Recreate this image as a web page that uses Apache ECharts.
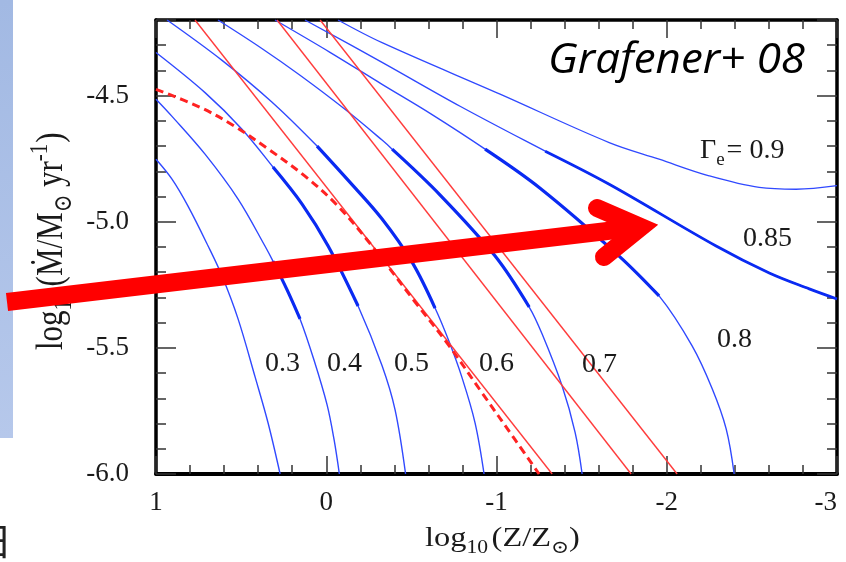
<!DOCTYPE html>
<html>
<head>
<meta charset="utf-8">
<script src="https://cdn.jsdelivr.net/npm/echarts@6/dist/echarts.min.js"></script>
<style>
  html, body { margin: 0; padding: 0; background: #fff; }
  #chart { width: 846px; height: 562px; }
</style>
</head>
<body>
<div id="chart"></div>
<script>
// Mass-loss rate vs metallicity for fixed Eddington factors (Γe tracks)
const xTicks = [1, 0, -1, -2, -3];
const yTicks = [-6.0, -5.5, -5.0, -4.5];

// [log10(Z/Zsun), log10(Mdot)] along each Γe track
const gamma03 = [[1.000,-4.752],[0.906,-4.831],[0.812,-4.938],[0.694,-5.096],[0.612,-5.215],[0.518,-5.385],[0.418,-5.615],[0.342,-5.797],[0.271,-6.000]];
const gamma04 = [[1.000,-4.514],[0.906,-4.582],[0.712,-4.732],[0.518,-4.910],[0.360,-5.096],[0.313,-5.156],[0.230,-5.270],[0.154,-5.385],[0.072,-5.548],[-0.005,-5.726],[-0.046,-5.864],[-0.077,-6.000]];
const gamma05 = [[1.000,-4.329],[0.712,-4.488],[0.495,-4.633],[0.313,-4.783],[0.142,-4.930],[-0.011,-5.096],[-0.187,-5.334],[-0.328,-5.571],[-0.404,-5.745],[-0.466,-6.000]];
const gamma06 = [[0.935,-4.200],[0.612,-4.360],[0.318,-4.526],[0.054,-4.700],[-0.128,-4.835],[-0.328,-4.989],[-0.504,-5.160],[-0.639,-5.342],[-0.722,-5.476],[-0.798,-5.619],[-0.874,-5.797],[-0.927,-6.000]];
const gamma07 = [[0.636,-4.200],[0.389,-4.308],[0.154,-4.419],[-0.110,-4.554],[-0.328,-4.676],[-0.387,-4.712],[-0.669,-4.894],[-0.992,-5.136],[-1.192,-5.338],[-1.268,-5.445],[-1.385,-5.650],[-1.462,-5.836],[-1.503,-6.000]];
const gamma08 = [[0.301,-4.200],[-0.022,-4.328],[-0.328,-4.455],[-0.610,-4.570],[-0.933,-4.712],[-1.256,-4.867],[-1.720,-5.136],[-1.955,-5.294],[-2.149,-5.492],[-2.267,-5.662],[-2.349,-5.821],[-2.396,-6.000]];
const gamma085 = [[0.125,-4.200],[-0.328,-4.368],[-0.786,-4.542],[-1.286,-4.720],[-1.662,-4.851],[-2.290,-5.096],[-2.602,-5.203],[-2.837,-5.266],[-3.000,-5.306]];
const gamma09 = [[-0.069,-4.200],[-0.328,-4.290],[-1.021,-4.494],[-1.662,-4.686],[-1.955,-4.752],[-2.249,-4.818],[-2.543,-4.864],[-2.760,-4.871],[-3.000,-4.857]];

// bold stretches of the tracks
const gamma04Bold = [[0.313,-5.156],[0.230,-5.270],[0.154,-5.385]];
const gamma05Bold = [[0.313,-4.783],[0.142,-4.930],[-0.011,-5.096],[-0.187,-5.334]];
const gamma06Bold = [[0.054,-4.700],[-0.128,-4.835],[-0.328,-4.989],[-0.504,-5.160],[-0.639,-5.342]];
const gamma07Bold = [[-0.387,-4.712],[-0.669,-4.894],[-0.992,-5.136],[-1.192,-5.338]];
const gamma08Bold = [[-0.933,-4.712],[-1.256,-4.867],[-1.720,-5.136],[-1.955,-5.294]];
const gamma085Bold = [[-1.286,-4.720],[-1.662,-4.851],[-2.290,-5.096],[-2.602,-5.203],[-2.837,-5.266],[-3.000,-5.306]];

// straight red relations and the dashed red one
const redLineA = [[0.771,-4.200],[-1.327,-6.000]];
const redLineB = [[0.289,-4.200],[-1.791,-6.000]];
const redLineC = [[0.036,-4.200],[-2.061,-6.000]];
const redDashed = [[1.000,-4.475],[0.741,-4.546],[0.548,-4.617],[0.348,-4.708],[0.125,-4.819],[-0.069,-4.938],[-0.269,-5.096],[-0.522,-5.318],[-0.722,-5.492],[-0.915,-5.678],[-1.109,-5.864],[-1.250,-6.000]];

const SERIF = '"Liberation Serif", "DejaVu Serif", serif';
const INK = '#1a1a1a';
const BLUE = '#3049ff';
const BLUE_BOLD = '#0a2af2';
const RED = '#ff3c3c';

const measureCtx = document.createElement('canvas').getContext('2d');
function widthOf(text, font) { measureCtx.font = font; return measureCtx.measureText(text).width; }

// pieces laid out along one baseline (local y = 0); shift > 0 lowers a piece
function textRun(pieces, family, color) {
  let cursor = 0;
  return pieces.map(p => {
    const font = p.size + 'px ' + family;
    cursor += (p.gap || 0);
    const el = {
      type: 'text', x: cursor, y: (p.shift || 0) - 0.34 * p.size,
      style: { text: p.text, font: font, fill: color, align: 'left', verticalAlign: 'middle', textAlign: 'left', textVerticalAlign: 'middle' }
    };
    cursor += widthOf(p.text, font);
    return el;
  });
}

function label(text, x, y, size) {
  return { type: 'text', x: x, y: y, z: 50,
    style: { text: text, font: size + 'px ' + SERIF, fill: INK, align: 'left', verticalAlign: 'middle', textAlign: 'left', textVerticalAlign: 'middle' } };
}

function track(data, width, color, z, dash) {
  return { type: 'line', data: data, showSymbol: false, symbol: 'none', smooth: 0.35,
    lineStyle: { color: color, width: width, type: dash || 'solid' }, z: z, silent: true, animation: false };
}

const isTick = (list, v) => list.some(t => Math.abs(t - v) < 1e-6);

const tickStyle = { color: '#333', width: 1.5 };
const xBase = { type: 'value', min: -3, max: 1, interval: 1, inverse: true, splitLine: { show: false } };
const yBase = { type: 'value', min: -6, max: -4.2, splitLine: { show: false } };

const grafWidth = widthOf('Grafener+ 08', 'italic 42px "Open Sans"');

const option = {
  animation: false,
  backgroundColor: '#fff',
  grid: { left: 156, right: 9, top: 20, bottom: 88 },
  xAxis: [
    Object.assign({}, xBase, {
      position: 'bottom',
      axisLine: { show: true, onZero: false, lineStyle: { color: '#000', width: 4 } },
      axisTick: { show: true, inside: true, length: 18, lineStyle: tickStyle },
      minorTick: { show: true, splitNumber: 5, length: 9, lineStyle: tickStyle },
      axisLabel: { show: true, fontFamily: SERIF, fontSize: 27, color: INK, margin: 15, alignMinLabel: 'right',
        formatter: v => isTick(xTicks, v) ? String(Math.round(v)) : '' }
    }),
    Object.assign({}, xBase, {
      position: 'top',
      axisLine: { show: true, onZero: false, lineStyle: { color: '#000', width: 3.5 } },
      axisTick: { show: true, inside: true, length: 18, lineStyle: tickStyle },
      minorTick: { show: true, splitNumber: 5, length: 9, lineStyle: tickStyle },
      axisLabel: { show: false }
    })
  ],
  yAxis: [
    Object.assign({}, yBase, {
      position: 'left', interval: 0.5,
      axisLine: { show: true, onZero: false, lineStyle: { color: '#000', width: 3.5 } },
      axisTick: { show: true, inside: true, length: 20, lineStyle: tickStyle },
      axisLabel: { show: true, fontFamily: SERIF, fontSize: 27, color: INK, margin: 27,
        formatter: v => isTick(yTicks, v) ? v.toFixed(1) : '' }
    }),
    Object.assign({}, yBase, {
      position: 'left', interval: 0.1,
      axisLine: { show: false, onZero: false },
      axisTick: { show: true, inside: true, length: 10, lineStyle: tickStyle },
      axisLabel: { show: false }
    }),
    Object.assign({}, yBase, {
      position: 'right', interval: 0.5,
      axisLine: { show: true, onZero: false, lineStyle: { color: '#000', width: 3.5 } },
      axisTick: { show: true, inside: true, length: 20, lineStyle: tickStyle },
      axisLabel: { show: false }
    }),
    Object.assign({}, yBase, {
      position: 'right', interval: 0.1,
      axisLine: { show: false, onZero: false },
      axisTick: { show: true, inside: true, length: 10, lineStyle: tickStyle },
      axisLabel: { show: false }
    })
  ],
  series: [
    track(gamma03, 1.4, BLUE, 2),
    track(gamma04, 1.4, BLUE, 2),
    track(gamma05, 1.4, BLUE, 2),
    track(gamma06, 1.4, BLUE, 2),
    track(gamma07, 1.4, BLUE, 2),
    track(gamma08, 1.4, BLUE, 2),
    track(gamma085, 1.4, BLUE, 2),
    track(gamma09, 1.3, BLUE, 2),
    track(redLineA, 1.4, RED, 3),
    track(redLineB, 1.4, RED, 3),
    track(redLineC, 1.4, RED, 3),
    track(gamma04Bold, 3.2, BLUE_BOLD, 4),
    track(gamma05Bold, 3.2, BLUE_BOLD, 4),
    track(gamma06Bold, 3.2, BLUE_BOLD, 4),
    track(gamma07Bold, 3.2, BLUE_BOLD, 4),
    track(gamma08Bold, 3.2, BLUE_BOLD, 4),
    track(gamma085Bold, 2.8, BLUE_BOLD, 4),
    track(redDashed, 3, '#ff2222', 5, [8, 5])
  ],
  graphic: [
    // pale side panel
    { type: 'rect', shape: { x: 0, y: 0, width: 13, height: 438 }, z: 1,
      style: { fill: new echarts.graphic.LinearGradient(0, 0, 0, 1, [
        { offset: 0, color: '#a2b9e3' }, { offset: 1, color: '#b6c8eb' }]) } },
    { type: 'text', x: -26, y: 541, z: 1,
      style: { text: '日', font: '38px "Noto Sans CJK SC"', fill: '#222', verticalAlign: 'middle', textVerticalAlign: 'middle' } },

    // source tag
    { type: 'text', x: 548, y: 77 - 0.388 * 42, scaleX: 257 / grafWidth, z: 50,
      style: { text: 'Grafener+ 08', font: 'italic 42px "Open Sans"', fill: '#000', align: 'left', verticalAlign: 'middle', textAlign: 'left', textVerticalAlign: 'middle' } },

    // track labels
    label('0.3', 265, 364, 28),
    label('0.4', 327, 364, 28),
    label('0.5', 394, 364, 28),
    label('0.6', 479, 364, 28),
    label('0.7', 582, 365, 28),
    label('0.8', 717, 340, 28),
    label('0.85', 743, 238.5, 28),
    { type: 'group', x: 700, y: 160, z: 50, children: textRun([
      { text: 'Γ', size: 28 }, { text: 'e', size: 19, shift: 6 }, { text: '=', size: 28, gap: 2 }, { text: ' 0.9', size: 28 }
    ], SERIF, INK) },

    // axis titles
    { type: 'group', x: 425, y: 548, scaleX: 1.2, z: 50, children: textRun([
      { text: 'log', size: 27 }, { text: '10', size: 18, shift: 6 }, { text: '(Z/Z', size: 27, gap: 3 },
      { text: '⊙', size: 18, shift: 6 }, { text: ')', size: 27 }
    ], SERIF, INK) },
    { type: 'group', x: 65, y: 350, rotation: Math.PI / 2, scaleY: 1.2, z: 50, children: textRun([
      { text: 'log', size: 31 }, { text: '10', size: 21, shift: 7 }, { text: '(Ṁ/M', size: 31, gap: 3 },
      { text: '⊙', size: 21, shift: 7 }, { text: ' yr', size: 31 }, { text: '-1', size: 21, shift: -13 }, { text: ')', size: 31, gap: 1 }
    ], SERIF, INK) },

    // big red arrow
    { type: 'polyline', z: 100, shape: { points: [[7, 302], [641, 227]] },
      style: { stroke: '#ff0000', lineWidth: 18, lineCap: 'butt', fill: null } },
    { type: 'polyline', z: 100, shape: { points: [[597, 208], [641, 227], [604, 257]] },
      style: { stroke: '#ff0000', lineWidth: 18, lineCap: 'round', lineJoin: 'miter', fill: null } }
  ]
};

const chart = echarts.init(document.getElementById('chart'), null, { renderer: 'canvas' });
chart.setOption(option);
</script>
</body>
</html>
